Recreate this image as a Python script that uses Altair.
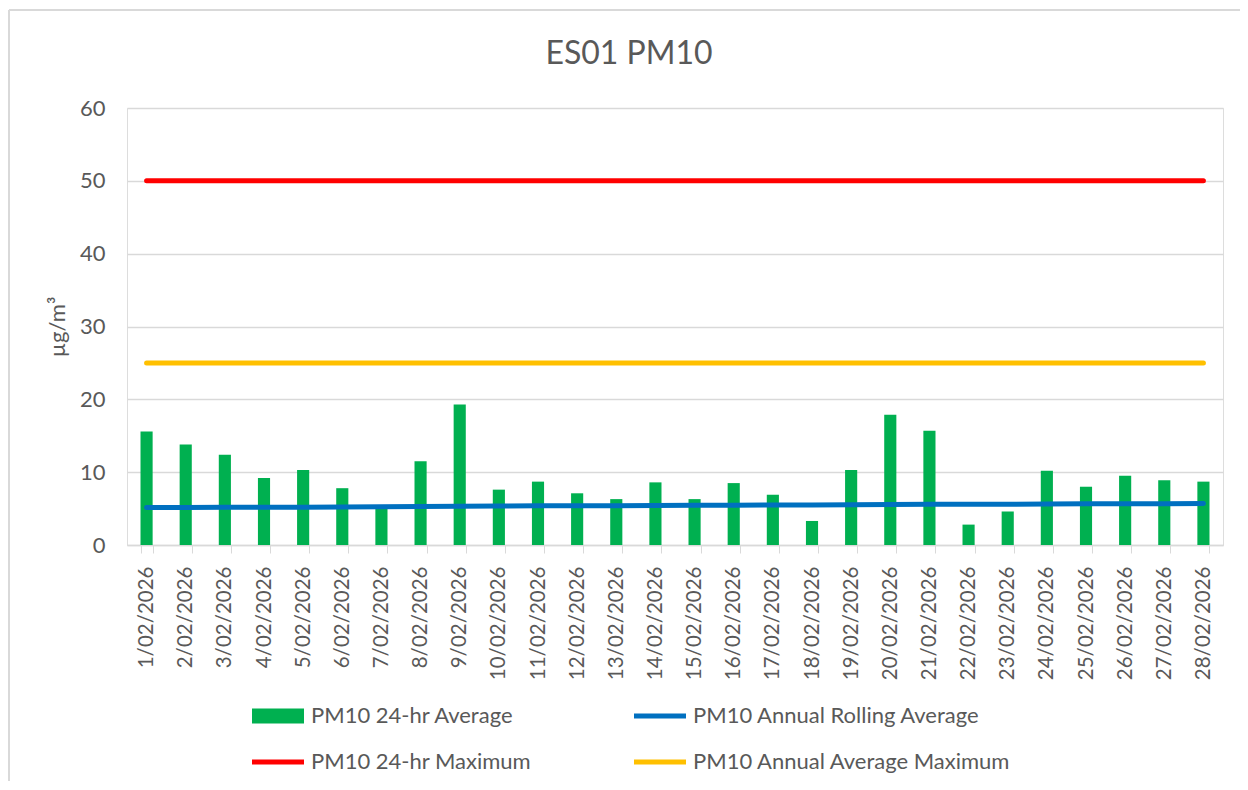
import altair as alt
import pandas as pd

dates = [f"{d}/02/2026" for d in range(1, 29)]
pm10_24hr = [15.6, 13.8, 12.4, 9.2, 10.3, 7.8, 5.0, 11.5, 19.3, 7.6,
             8.7, 7.1, 6.3, 8.6, 6.3, 8.5, 6.9, 3.3, 10.3, 17.9,
             15.7, 2.8, 4.6, 10.2, 8.0, 9.5, 8.9, 8.7]
rolling_avg = [5.15, 5.15, 5.17, 5.2, 5.2, 5.22, 5.25, 5.27, 5.33, 5.35,
               5.38, 5.4, 5.4, 5.43, 5.45, 5.46, 5.5, 5.5, 5.52, 5.55,
               5.58, 5.6, 5.6, 5.63, 5.65, 5.66, 5.68, 5.7]
max_24hr = 50
max_annual = 25
chart_title = "ES01 PM10"

# legend order (column-major): col 1 = green, red ; col 2 = blue, yellow
series_names = ["PM10 24-hr Average", "PM10 24-hr Maximum",
                "PM10 Annual Rolling Average", "PM10 Annual Average Maximum"]
series_colors = ["#00B050", "#FF0000", "#0070C0", "#FFC000"]
series_shapes = ["M-1,-0.29H1V0.29H-1Z", "M-1,-0.1H1V0.1H-1Z",
                 "M-1,-0.1H1V0.1H-1Z", "M-1,-0.1H1V0.1H-1Z"]

df = pd.DataFrame({
    "date": dates,
    "avg": pm10_24hr,
    "roll": rolling_avg,
    "max24": [max_24hr] * len(dates),
    "maxann": [max_annual] * len(dates),
})

FONT = "Lato"
TXT = "#595959"
GRID = "#D9D9D9"

x_enc = alt.X("date:N", sort=dates, title=None,
              scale=alt.Scale(paddingInner=0.69, paddingOuter=0.345),
              axis=alt.Axis(labelAngle=-90, labelFontSize=20.5, labelColor=TXT,
                            labelFont=FONT, tickBand="extent", tickColor=GRID,
                            tickSize=8, domainColor=GRID, domainWidth=1.5,
                            labelPadding=13, grid=False, labelBaseline="middle"))
y_scale = alt.Scale(domain=[0, 60])

base = alt.Chart(df)

bars = base.mark_bar(color="#00B050").encode(
    x=x_enc,
    y=alt.Y("avg:Q", scale=y_scale, title="µg/m³",
            axis=alt.Axis(values=[0, 10, 20, 30, 40, 50, 60], labelFontSize=22,
                          labelColor=TXT, labelFont=FONT, domain=False, ticks=False,
                          labelPadding=22, gridColor=GRID, gridWidth=1.5,
                          titleFont=FONT, titleFontSize=22, titleColor=TXT,
                          titleFontWeight="normal", titlePadding=10)),
)

def hline(field, color):
    return base.mark_line(color=color, strokeWidth=5, strokeCap="round").encode(
        x=alt.X("date:N", sort=dates),
        y=alt.Y(f"{field}:Q", scale=y_scale),
    )

roll = hline("roll", "#0070C0")
m24 = hline("max24", "#FF0000")
mann = hline("maxann", "#FFC000")

leg_df = pd.DataFrame({"series": series_names})
legend_layer = alt.Chart(leg_df).mark_point(filled=True, opacity=0).transform_filter(
    "false"
).encode(
    color=alt.Color("series:N",
                    scale=alt.Scale(domain=series_names, range=series_colors),
                    legend=alt.Legend(title=None, orient="none", legendX=125, legendY=582,
                                      columns=2, columnPadding=102, rowPadding=9,
                                      symbolSize=2704, symbolOpacity=1,
                                      symbolStrokeWidth=0, labelFontSize=22,
                                      labelFont=FONT, labelColor=TXT, labelOffset=7,
                                      labelLimit=400, padding=0)),
    shape=alt.Shape("series:N",
                    scale=alt.Scale(domain=series_names, range=series_shapes),
                    legend=None),
)

title_df = pd.DataFrame({"t": [chart_title]})
title_layer = alt.Chart(title_df).mark_text(
    font=FONT, fontSize=32, color=TXT, align="center", baseline="alphabetic"
).encode(text="t:N", x=alt.value(502), y=alt.value(-44))

frame_top = alt.Chart(leg_df).mark_rule(color=GRID, strokeWidth=1.5).encode(
    x=alt.value(-118), x2=alt.value(1121), y=alt.value(-98)
)
frame_left = alt.Chart(leg_df).mark_rule(color=GRID, strokeWidth=1.5).encode(
    x=alt.value(-118), y=alt.value(-98), y2=alt.value(680)
)

chart = alt.layer(bars, roll, m24, mann, legend_layer, title_layer,
                  frame_top, frame_left).properties(
    width=1096, height=437,
    autosize=alt.AutoSizeParams(type="none"),
    padding={"left": 119, "top": 100, "right": 17, "bottom": 236},
).configure_view(stroke=None).configure(background="white")

chart.save("out.html", embed_options={"renderer": "svg", "actions": False})
